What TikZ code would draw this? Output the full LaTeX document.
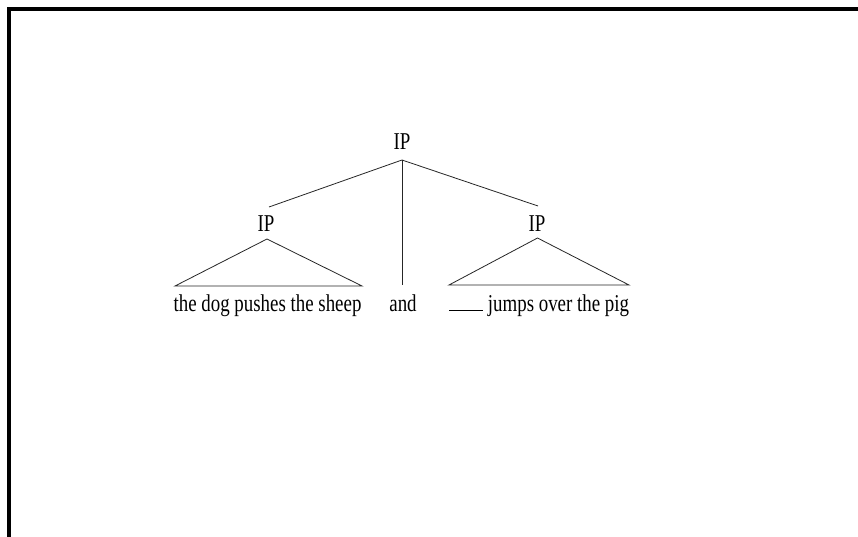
\documentclass[tikz,border=0pt]{standalone}
\usepackage{fontspec}
\setmainfont{Liberation Serif}
\begin{document}
\begin{tikzpicture}[x=1pt,y=-1pt,
  lbl/.style={inner sep=0pt,anchor=base,font=\fontsize{21}{24}\selectfont,xscale=0.9,yscale=1.15,transform shape},
  br/.style={line width=0.8pt,black!85}]
\useasboundingbox (0,0) rectangle (858,537);
\fill[white] (0,0) rectangle (858,537);
\draw[line width=4pt] (9,545) -- (9,9.5) -- (870,9.5);
% labels
\node[lbl] (top) at (402,150) {IP};
\node[lbl] (lip) at (266,232) {IP};
\node[lbl] (rip) at (537,232) {IP};
\node[lbl] (s1) at (267.5,311) {the dog pushes the sheep};
\node[lbl] (and) at (403,311) {and};
\node[lbl] (s2) at (558.5,311) {jumps over the pig};
% coordinates
\coordinate (ta) at (402,160);
\coordinate (la) at (269,207);
\coordinate (ra) at (538,206);
\coordinate (vb) at (402,285);
\coordinate (lt) at (267,239);
\coordinate (lbl) at (175,286);
\coordinate (lbr) at (362,286);
\coordinate (rt) at (537.5,238);
\coordinate (rbl) at (449,285);
\coordinate (rbr) at (629,285);
\coordinate (g1) at (449,310);
\coordinate (g2) at (483,310);
% tree
\draw[br] (la) -- (ta) -- (ra);
\draw[br] (ta) -- (vb);
\draw[br] (lt) -- (lbl) -- (lbr) -- cycle;
\draw[br] (rt) -- (rbl) -- (rbr) -- cycle;
\draw[line width=1pt] (g1) -- (g2);
\end{tikzpicture}
\end{document}
